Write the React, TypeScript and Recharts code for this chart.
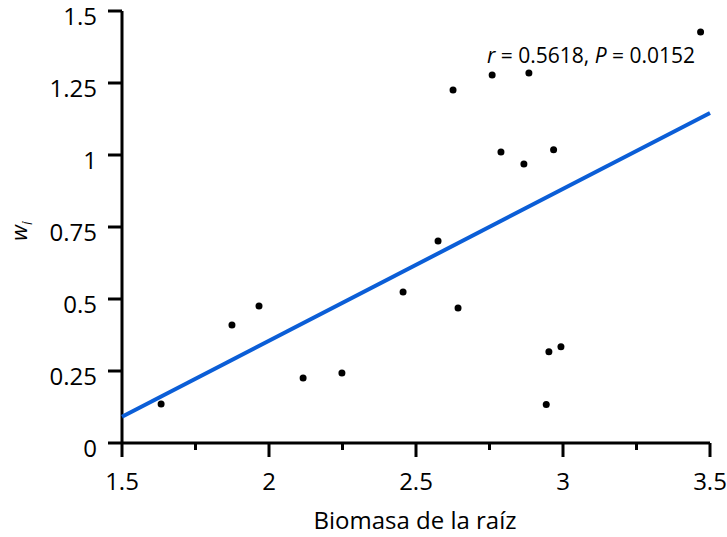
import { ScatterChart, Scatter, XAxis, YAxis, Customized } from 'recharts';

// biomasa de la raíz (x) vs w_i (y)
const biomass = [1.633, 1.874, 1.966, 2.116, 2.248, 2.456, 2.575, 2.626, 2.643, 2.759, 2.884, 2.789, 2.867, 2.968, 3.468, 2.952, 2.993, 2.943];
const wi = [0.135, 0.41, 0.476, 0.226, 0.243, 0.524, 0.701, 1.226, 0.469, 1.278, 1.285, 1.01, 0.969, 1.018, 1.427, 0.317, 0.334, 0.134];

// fitted line end points
const fitX = [1.5, 3.5];
const fitY = [0.091, 1.146];

const xTicks = [1.5, 1.75, 2, 2.25, 2.5, 2.75, 3, 3.25, 3.5];
const yTicks = [0, 0.25, 0.5, 0.75, 1, 1.25, 1.5];

const points = biomass.map((x, i) => ({ x, y: wi[i] }));
const fitLine = fitX.map((x, i) => ({ x, y: fitY[i] }));

const FONT = '"Open Sans", sans-serif';

const XTick = (props: any) => {
	const { x, y, payload } = props;
	const v = payload.value as number;
	const major = Math.abs(v * 2 - Math.round(v * 2)) < 1e-6;
	return (
		<g>
			<line x1={x} x2={x} y1={y} y2={y + (major ? 14 : 7)} stroke='#000' strokeWidth={3} />
			{major && (
				<text x={x} y={y + 47} textAnchor='middle' fontFamily={FONT} fontSize={24} fill='#000'>
					{v}
				</text>
			)}
		</g>
	);
};

const YTick = (props: any) => {
	const { x, y, payload } = props;
	return (
		<g>
			<line x1={x - 14} x2={x} y1={y} y2={y} stroke='#000' strokeWidth={3} />
			<text x={x - 25} y={y + 13.5} textAnchor='end' fontFamily={FONT} fontSize={24} fill='#000'>
				{payload.value}
			</text>
		</g>
	);
};

const Texts = () => (
	<g fontFamily={FONT} fill='#000'>
		<text x={487} y={63} fontSize={21}>
			<tspan fontStyle='italic'>r</tspan>
			<tspan>{' = 0.5618, '}</tspan>
			<tspan fontStyle='italic'>P</tspan>
			<tspan>{' = 0.0152'}</tspan>
		</text>
		<text x={415} y={529} fontSize={24} textAnchor='middle'>
			Biomasa de la raíz
		</text>
		<text transform='translate(27,231) rotate(-90)' fontSize={22} textAnchor='middle'>
			<tspan fontStyle='italic'>w</tspan>
			<tspan fontStyle='italic' fontSize={14} dy={5}>i</tspan>
		</text>
	</g>
);

const Dot = (props: any) => <circle cx={props.cx} cy={props.cy} r={3.5} fill='#000' />;

export default function App() {
	return (
		<div style={{ position: 'absolute', left: 0, top: 0, background: '#fff' }}>
			<ScatterChart width={727} height={537} margin={{ top: 11, right: 17, bottom: 34, left: 0 }}>
				<XAxis
					type='number'
					dataKey='x'
					domain={[1.5, 3.5]}
					ticks={xTicks}
					interval={0}
					height={60}
					axisLine={{ stroke: '#000', strokeWidth: 3 }}
					tickLine={false}
					tickSize={0}
					tickMargin={0}
					tick={<XTick />}
				/>
				<YAxis
					type='number'
					dataKey='y'
					domain={[0, 1.5]}
					ticks={yTicks}
					interval={0}
					width={122}
					axisLine={{ stroke: '#000', strokeWidth: 3 }}
					tickLine={false}
					tickSize={0}
					tickMargin={0}
					tick={<YTick />}
				/>
				<Scatter
					data={fitLine}
					line={{ stroke: '#0b5ed7', strokeWidth: 4 }}
					shape={() => <g />}
					isAnimationActive={false}
				/>
				<Scatter data={points} shape={<Dot />} isAnimationActive={false} />
				<Customized component={Texts} />
			</ScatterChart>
		</div>
	);
}
